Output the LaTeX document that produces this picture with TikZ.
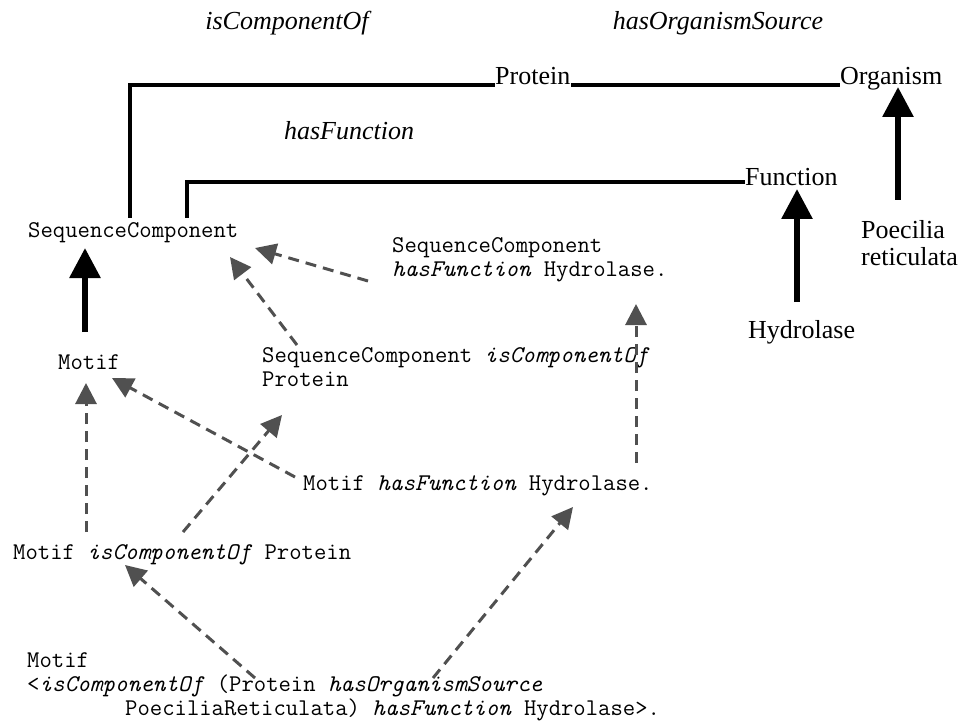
\documentclass[tikz,border=0pt]{standalone}
\usepackage{fontspec}
\setmainfont{Liberation Serif}
\usetikzlibrary{arrows.meta}
\definecolor{infergray}{RGB}{80,80,80}

\begin{document}
\begin{tikzpicture}[x=1pt,y=-1pt]
	\tikzstyle{concept}=[inner sep=0pt,font=\fontsize{26}{27}\selectfont]
	\tikzstyle{rolename}=[concept,anchor=base,font=\fontsize{26}{27}\selectfont\itshape]
	\tikzstyle{stmt}=[inner sep=0pt,anchor=north west,align=left,font=\fontsize{24}{24}\selectfont\ttfamily]
	\tikzstyle{role}=[line width=4pt]
	\tikzstyle{isa}=[line width=6pt,-{Triangle[width=30pt,length=30pt]}]
	\tikzstyle{infer}=[line width=3pt,draw=infergray,dash pattern=on 11pt off 7pt,-{Triangle[width=21pt,length=21pt]}]
	\useasboundingbox (0,0) rectangle (961,722);
	\node[rolename] (13) at (287,30) {isComponentOf};
	\node[rolename] (14) at (718,30) {hasOrganismSource};
	\node[rolename] (15) at (349,140) {hasFunction};
	\node[concept,anchor=base west] (3) at (495,85) {Protein};
	\node[concept,anchor=base west] (4) at (840,85) {Organism};
	\node[concept,anchor=base west] (5) at (745,186) {Function};
	\node[concept,anchor=base west] (6) at (748,338) {Hydrolase};
	\node[concept,anchor=north west,align=left] (7) at (861,220) {Poecilia\\reticulata};
	\node[stmt] (1) at (28,222) {SequenceComponent};
	\node[stmt] (2) at (58,354) {Motif};
	\node[stmt] (8) at (392,237) {SequenceComponent\\\textit{hasFunction} Hydrolase.};
	\node[stmt] (9) at (262,347) {SequenceComponent \textit{isComponentOf}\\Protein};
	\node[stmt] (10) at (303,475) {Motif \textit{hasFunction} Hydrolase.};
	\node[stmt] (11) at (13,544) {Motif \textit{isComponentOf} Protein};
	\node[stmt] (12) at (27,652) {Motif\\<\textit{isComponentOf} (Protein \textit{hasOrganismSource}\\\hspace*{98pt}PoeciliaReticulata) \textit{hasFunction} Hydrolase>.};
	\draw[role] ([shift={(102,-4)}]1.north west) |- (3.base west);
	\draw[role] (3.base east) -- (4.base west);
	\draw[role] ([shift={(159,-4)}]1.north west) |- ([shift={(0,-4)}]5.base west);
	\draw[isa] ([shift={(27,-22)}]2.north west) -- ([shift={(57,26)}]1.north west);
	\draw[isa] ([shift={(49,-36)}]6.base west) -- ([shift={(52,3)}]5.base west);
	\draw[isa] ([shift={(37,-20)}]7.north west) -- ([shift={(58,2)}]4.base west);
	\draw[infer] ([shift={(-24,44)}]8.north west) -- ([shift={(227,26)}]1.north west);
	\draw[infer] ([shift={(35,-2)}]9.north west) -- ([shift={(202,35)}]1.north west);
	\draw[infer] ([shift={(333,-12)}]10.north west) -- ([shift={(244,67)}]8.north west);
	\draw[infer] ([shift={(-8,2)}]10.north west) -- ([shift={(54,24)}]2.north west);
	\draw[infer] ([shift={(73,-12)}]11.north west) -- ([shift={(28,29)}]2.north west);
	\draw[infer] ([shift={(170,-12)}]11.north west) -- ([shift={(20,68)}]9.north west);
	\draw[infer] ([shift={(228,26)}]12.north west) -- ([shift={(112,21)}]11.north west);
	\draw[infer] ([shift={(406,26)}]12.north west) -- ([shift={(270,32)}]10.north west);
\end{tikzpicture}
\end{document}
